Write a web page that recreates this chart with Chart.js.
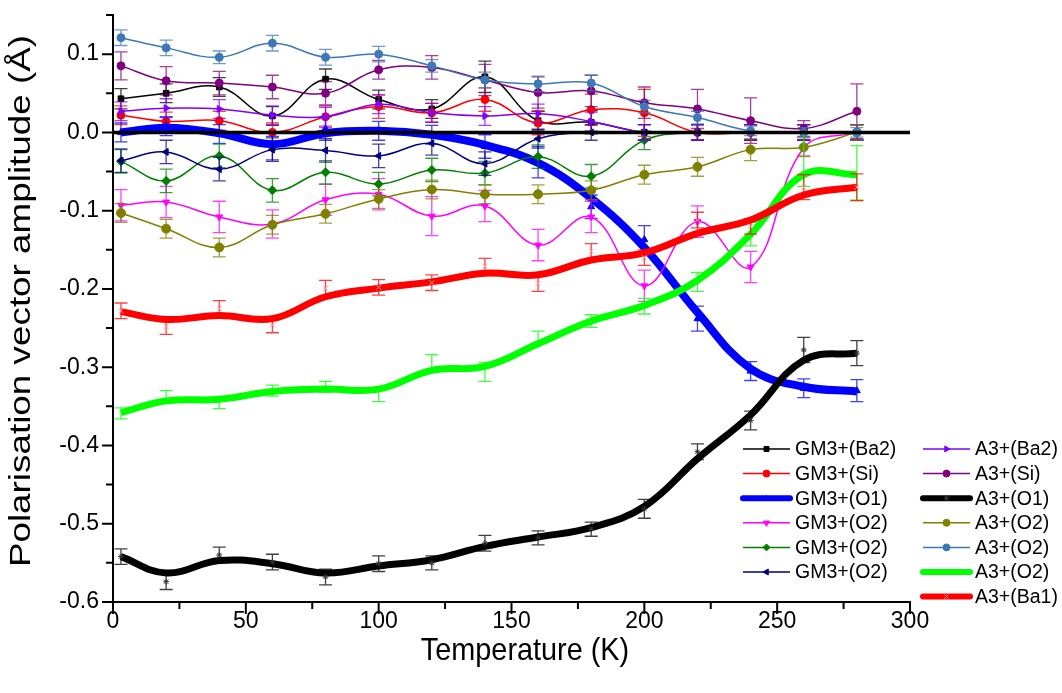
<!DOCTYPE html>
<html>
<head>
<meta charset="utf-8">
<script src="https://cdn.jsdelivr.net/npm/chart.js@4.4.0/dist/chart.umd.min.js"></script>
<style>
  html, body { margin: 0; padding: 0; background: #fff; }
  #wrap { width: 1062px; height: 693px; }
</style>
</head>
<body>
<div id="wrap"><canvas id="myChart"></canvas></div>
<script>
// temperatures (K)
const temps = [3, 20, 40, 60, 80, 100, 120, 140, 160, 180, 200, 220, 240, 260, 280];

// GM3+ modes (markers + error bars)
const gm3Ba2 = [0.043, 0.050, 0.058, 0.021, 0.068, 0.042, 0.030, 0.071, 0.015, 0.013, 0, 0, 0, 0, 0];
const gm3Ba2Err = [0.013, 0.012, 0.012, 0.012, 0.013, 0.012, 0.012, 0.02, 0.012, 0.015, 0.01, 0.01, 0.01, 0.01, 0.01];
const gm3Si = [0.022, 0.014, 0.015, 0.0, 0.020, 0.033, 0.025, 0.042, 0.012, 0.029, 0.025, 0, 0, 0, 0];
const gm3SiErr = [0.012, 0.012, 0.012, 0.012, 0.014, 0.015, 0.012, 0.015, 0.015, 0.02, 0.03, 0.01, 0.01, 0.01, 0.01];
const gm3O1 = [0.0, 0.008, -0.002, -0.020, 0.005, 0.002, -0.003, -0.018, -0.038, -0.095, -0.137, -0.238, -0.305, -0.327, -0.330];
const gm3O1Err = [0.012, 0.012, 0.012, 0.015, 0.015, 0.012, 0.012, 0.015, 0.02, 0.015, 0.018, 0.016, 0.012, 0.012, 0.014];
const gm3O2a = [-0.093, -0.089, -0.108, -0.117, -0.086, -0.079, -0.107, -0.094, -0.144, -0.108, -0.196, -0.114, -0.172, -0.02, 0];
const gm3O2aErr = [0.02, 0.02, 0.02, 0.018, 0.02, 0.02, 0.025, 0.02, 0.02, 0.02, 0.02, 0.02, 0.02, 0.01, 0.01];
const gm3O2b = [-0.037, -0.062, -0.030, -0.074, -0.051, -0.066, -0.048, -0.052, -0.031, -0.056, -0.010, 0, 0, 0, 0];
const gm3O2bErr = [0.015, 0.015, 0.015, 0.015, 0.015, 0.015, 0.015, 0.015, 0.015, 0.015, 0.012, 0.01, 0.01, 0.01, 0.01];
const gm3O2c = [-0.036, -0.025, -0.047, -0.022, -0.023, -0.030, -0.014, -0.040, -0.008, 0, 0, 0, 0, 0, 0];
const gm3O2cErr = [0.015, 0.015, 0.015, 0.015, 0.015, 0.015, 0.015, 0.015, 0.012, 0.01, 0.01, 0.01, 0.01, 0.01, 0.01];

// A3+ modes (markers + error bars)
const a3Ba2 = [0.027, 0.031, 0.030, 0.022, 0.020, 0.036, 0.025, 0.021, 0.024, 0.014, 0, 0, 0, 0, 0];
const a3Ba2Err = [0.012, 0.012, 0.012, 0.012, 0.012, 0.012, 0.012, 0.012, 0.012, 0.012, 0.01, 0.01, 0.01, 0.01, 0.01];
const a3Si = [0.085, 0.066, 0.063, 0.058, 0.050, 0.080, 0.083, 0.067, 0.051, 0.053, 0.038, 0.030, 0.015, 0.005, 0.027];
const a3SiErr = [0.018, 0.018, 0.015, 0.015, 0.015, 0.012, 0.015, 0.02, 0.02, 0.02, 0.02, 0.025, 0.029, 0.01, 0.035];
const a3O1 = [-0.542, -0.574, -0.540, -0.549, -0.568, -0.551, -0.550, -0.525, -0.518, -0.507, -0.481, -0.408, -0.368, -0.278, -0.282];
const a3O1Err = [0.01, 0.01, 0.01, 0.01, 0.01, 0.01, 0.009, 0.01, 0.009, 0.009, 0.012, 0.01, 0.012, 0.016, 0.016];
const a3O2a = [-0.103, -0.123, -0.147, -0.118, -0.104, -0.085, -0.073, -0.079, -0.079, -0.074, -0.054, -0.044, -0.022, -0.019, 0];
const a3O2aErr = [0.012, 0.012, 0.012, 0.012, 0.012, 0.012, 0.012, 0.012, 0.012, 0.012, 0.012, 0.012, 0.014, 0.012, 0.01];
const a3O2b = [0.121, 0.108, 0.096, 0.114, 0.096, 0.100, 0.085, 0.067, 0.062, 0.063, 0.033, 0.019, 0.002, 0, 0];
const a3O2bErr = [0.01, 0.01, 0.008, 0.01, 0.01, 0.01, 0.008, 0.01, 0.01, 0.01, 0.008, 0.008, 0.006, 0.006, 0.006];
const a3O2c = [-0.359, -0.337, -0.346, -0.330, -0.325, -0.336, -0.293, -0.306, -0.262, -0.241, -0.222, -0.191, -0.130, -0.035, -0.052];
const a3O2cErr = [0.007, 0.007, 0.007, 0.007, 0.007, 0.008, 0.009, 0.012, 0.008, 0.008, 0.01, 0.012, 0.015, 0.034, 0.035];
const a3Ba1 = [-0.228, -0.248, -0.225, -0.246, -0.199, -0.198, -0.192, -0.171, -0.193, -0.152, -0.160, -0.112, -0.120, -0.070, -0.070];
const a3Ba1Err = [0.01, 0.01, 0.01, 0.01, 0.01, 0.01, 0.01, 0.01, 0.01, 0.01, 0.01, 0.01, 0.01, 0.016, 0.017];

const gm3O1Curve = [0.0, 0.006, -0.001, -0.015, -0.001, 0.002, -0.003, -0.016, -0.039, -0.084, -0.147, -0.230, -0.302, -0.325, -0.331];
const a3O1Curve = [-0.542, -0.563, -0.547, -0.551, -0.563, -0.554, -0.546, -0.529, -0.517, -0.505, -0.478, -0.417, -0.361, -0.291, -0.282];
const a3O2cCurve = [-0.358, -0.343, -0.341, -0.331, -0.328, -0.328, -0.304, -0.299, -0.270, -0.241, -0.221, -0.189, -0.130, -0.054, -0.054];
const a3Ba1Curve = [-0.229, -0.239, -0.234, -0.238, -0.210, -0.199, -0.191, -0.180, -0.182, -0.163, -0.154, -0.129, -0.112, -0.080, -0.070];

const FONT = "'Liberation Sans', Arial, sans-serif";

let pts = (vals) => vals.map((v, i) => ({ x: temps[i], y: v }));

let series = (label, vals, errs, color, opts) => Object.assign({
    label: label,
    data: pts(vals),
    errors: errs,
    inLegend: true,
    borderColor: color,
    backgroundColor: color,
    pointBackgroundColor: color,
    pointBorderColor: color,
    borderWidth: 1.5,
    pointRadius: 4,
    pointBorderWidth: 1,
    pointStyle: "circle",
    tension: 0.4,
    fill: false,
}, opts || {});

// thick series: a smooth line plus a marker-only set carrying the error bars
let thick = (label, curve, vals, errs, color, width, marker) => [
    {
        label: label,
        data: pts(curve),
        inLegend: true,
        thick: true,
        borderColor: color,
        backgroundColor: color,
        borderWidth: width,
        pointRadius: 0,
        tension: 0.4,
        legendPoint: marker,
    },
    {
        label: label + " points",
        data: pts(vals),
        errors: errs,
        showLine: false,
        borderColor: color,
        backgroundColor: color,
        pointStyle: marker.style,
        pointRadius: marker.radius,
        pointBackgroundColor: marker.color,
        pointBorderColor: marker.color,
        pointBorderWidth: 1,
    },
];

const datasetList = [
    series("GM3+(Ba2)", gm3Ba2, gm3Ba2Err, "#000000", { pointStyle: "rect", pointRadius: 4 }),
    series("GM3+(Si)", gm3Si, gm3SiErr, "#ff0000"),
    ...thick("GM3+(O1)", gm3O1Curve, gm3O1, gm3O1Err, "#0000ff", 8, { style: "triangle", radius: 4, color: "#0000ff" }),
    series("GM3+(O2)", gm3O2a, gm3O2aErr, "#ff00ff", { pointStyle: "triangle", pointRotation: 180 }),
    series("GM3+(O2)", gm3O2b, gm3O2bErr, "#008000", { pointStyle: "rectRot", pointRadius: 4.5 }),
    series("GM3+(O2)", gm3O2c, gm3O2cErr, "#000080", { pointStyle: "triangle", pointRotation: 270 }),
    series("A3+(Ba2)", a3Ba2, a3Ba2Err, "#8000ff", { pointStyle: "triangle", pointRotation: 90 }),
    series("A3+(Si)", a3Si, a3SiErr, "#800080"),
    ...thick("A3+(O1)", a3O1Curve, a3O1, a3O1Err, "#000000", 7, { style: "star", radius: 3, color: "#333333" }),
    series("A3+(O2)", a3O2a, a3O2aErr, "#808000", { pointRadius: 4.5 }),
    series("A3+(O2)", a3O2b, a3O2bErr, "#3d78b8"),
    ...thick("A3+(O2)", a3O2cCurve, a3O2c, a3O2cErr, "#00ff00", 7, { style: "circle", radius: 0, color: "#00ff00" }),
    ...thick("A3+(Ba1)", a3Ba1Curve, a3Ba1, a3Ba1Err, "#ff0000", 7, { style: "crossRot", radius: 3.5, color: "#ff9a9a" }),
];
// later series sit on top, as in the original plot
datasetList.forEach((ds, i) => { ds.order = -i; });

// error bars drawn under each marker set
const errorBars = {
    id: "errorBars",
    beforeDatasetDraw(chart, args) {
        const ds = chart.data.datasets[args.index];
        if (!ds.errors) return;
        const ctx = chart.ctx;
        const xs = chart.scales.x, ys = chart.scales.y;
        ctx.save();
        ctx.strokeStyle = ds.borderColor;
        ctx.globalAlpha = 0.75;
        ctx.lineWidth = 1.3;
        ds.data.forEach((p, i) => {
            const e = ds.errors[i];
            const px = xs.getPixelForValue(p.x);
            const t = ys.getPixelForValue(p.y + e);
            const b = ys.getPixelForValue(p.y - e);
            ctx.beginPath();
            ctx.moveTo(px, t); ctx.lineTo(px, b);
            ctx.moveTo(px - 6.5, t); ctx.lineTo(px + 6.5, t);
            ctx.moveTo(px - 6.5, b); ctx.lineTo(px + 6.5, b);
            ctx.stroke();
        });
        ctx.restore();
    },
};

// zero line, axis ticks, axis titles and legend
const decorations = {
    id: "decorations",
    afterDatasetsDraw(chart) {
        const ctx = chart.ctx;
        const a = chart.chartArea;
        const xs = chart.scales.x, ys = chart.scales.y;
        ctx.save();
        const y0 = ys.getPixelForValue(0);
        ctx.strokeStyle = "#000";
        ctx.lineWidth = 3.5;
        ctx.beginPath();
        ctx.moveTo(a.left, y0); ctx.lineTo(a.right, y0);
        ctx.stroke();

        ctx.lineWidth = 2;
        ctx.beginPath();
        ys.ticks.forEach((t) => {
            const py = ys.getPixelForValue(t.value);
            const major = Math.round(t.value * 20) % 2 === 0;
            ctx.moveTo(a.left - (major ? 11 : 7), py); ctx.lineTo(a.left, py);
        });
        xs.ticks.forEach((t) => {
            const px = xs.getPixelForValue(t.value);
            const major = Math.round(t.value) % 50 === 0;
            ctx.moveTo(px, a.bottom); ctx.lineTo(px, a.bottom + (major ? 12 : 7));
        });
        ctx.stroke();
        ctx.restore();
    },
    afterDraw(chart) {
        const ctx = chart.ctx;
        ctx.save();
        ctx.fillStyle = "#000";
        ctx.textAlign = "center";
        ctx.textBaseline = "middle";
        ctx.font = "29px " + FONT;
        ctx.save();
        ctx.translate(22, 301);
        ctx.rotate(-Math.PI / 2);
        ctx.scale(1.27, 1);
        ctx.fillText("Polarisation vector amplitude (Å)", 0, 0);
        ctx.restore();
        ctx.font = "28px " + FONT;
        ctx.save();
        ctx.translate(525, 652);
        ctx.scale(1.03, 1.1);
        ctx.fillText("Temperature (K)", 0, 0);
        ctx.restore();

        ctx.textAlign = "left";
        ctx.font = "19.5px " + FONT;
        const entries = chart.data.datasets.filter((ds) => ds.inLegend);
        entries.forEach((ds, i) => {
            const col = i < 6 ? 0 : 1;
            const row = i < 6 ? i : i - 6;
            const x0 = col === 0 ? 743 : 923;
            const y = 449 + row * 24.6;
            ctx.strokeStyle = ds.borderColor;
            ctx.lineWidth = ds.thick ? 6 : 1.5;
            ctx.lineCap = ds.thick ? "round" : "butt";
            ctx.beginPath();
            ctx.moveTo(x0, y); ctx.lineTo(x0 + 47, y);
            ctx.stroke();
            const mk = ds.legendPoint || { style: ds.pointStyle, radius: ds.pointRadius, color: ds.pointBackgroundColor };
            if (mk.radius > 0) {
                ctx.fillStyle = mk.color;
                ctx.strokeStyle = mk.color;
                ctx.lineWidth = 1;
                Chart.helpers.drawPoint(ctx, {
                    pointStyle: mk.style,
                    radius: ds.thick ? 2.5 : 3.5,
                    rotation: ds.pointRotation || 0,
                    borderWidth: 1,
                }, x0 + 23.5, y);
            }
            ctx.fillStyle = "#000";
            ctx.fillText(ds.label, x0 + 52, y + 1);
        });
        ctx.restore();
    },
};

let drawChart = () => {
    var ctx = document.getElementById("myChart").getContext("2d");
    return new Chart(ctx, {
        type: "line",
        data: { datasets: datasetList },
        options: {
            responsive: true,
            maintainAspectRatio: false,
            animation: false,
            layout: { padding: { top: 15, right: 152, left: 0, bottom: 0 } },
            plugins: {
                legend: { display: false },
                tooltip: { enabled: false },
            },
            scales: {
                x: {
                    type: "linear",
                    min: 0,
                    max: 300,
                    afterFit: (s) => { s.height = 91; s.paddingLeft = 0; s.paddingRight = 0; },
                    ticks: {
                        stepSize: 25,
                        autoSkip: false,
                        maxRotation: 0,
                        padding: 6,
                        color: "#000",
                        font: { family: FONT, size: 23 },
                        callback: (v) => (Math.round(v) % 50 === 0 ? String(v) : ""),
                    },
                    grid: { display: false, drawTicks: false },
                    border: { display: true, color: "#000", width: 2 },
                },
                y: {
                    type: "linear",
                    min: -0.6,
                    max: 0.15,
                    afterFit: (s) => { s.width = 113; s.paddingTop = 0; s.paddingBottom = 0; },
                    ticks: {
                        stepSize: 0.05,
                        autoSkip: false,
                        padding: 14,
                        color: "#000",
                        font: { family: FONT, size: 23 },
                        callback: (v) => (Math.round(v * 20) % 2 === 0 ? v.toFixed(1) : ""),
                    },
                    grid: { display: false, drawTicks: false },
                    border: { display: true, color: "#000", width: 2 },
                },
            },
        },
        plugins: [errorBars, decorations],
    });
};
drawChart();
</script>
</body>
</html>
